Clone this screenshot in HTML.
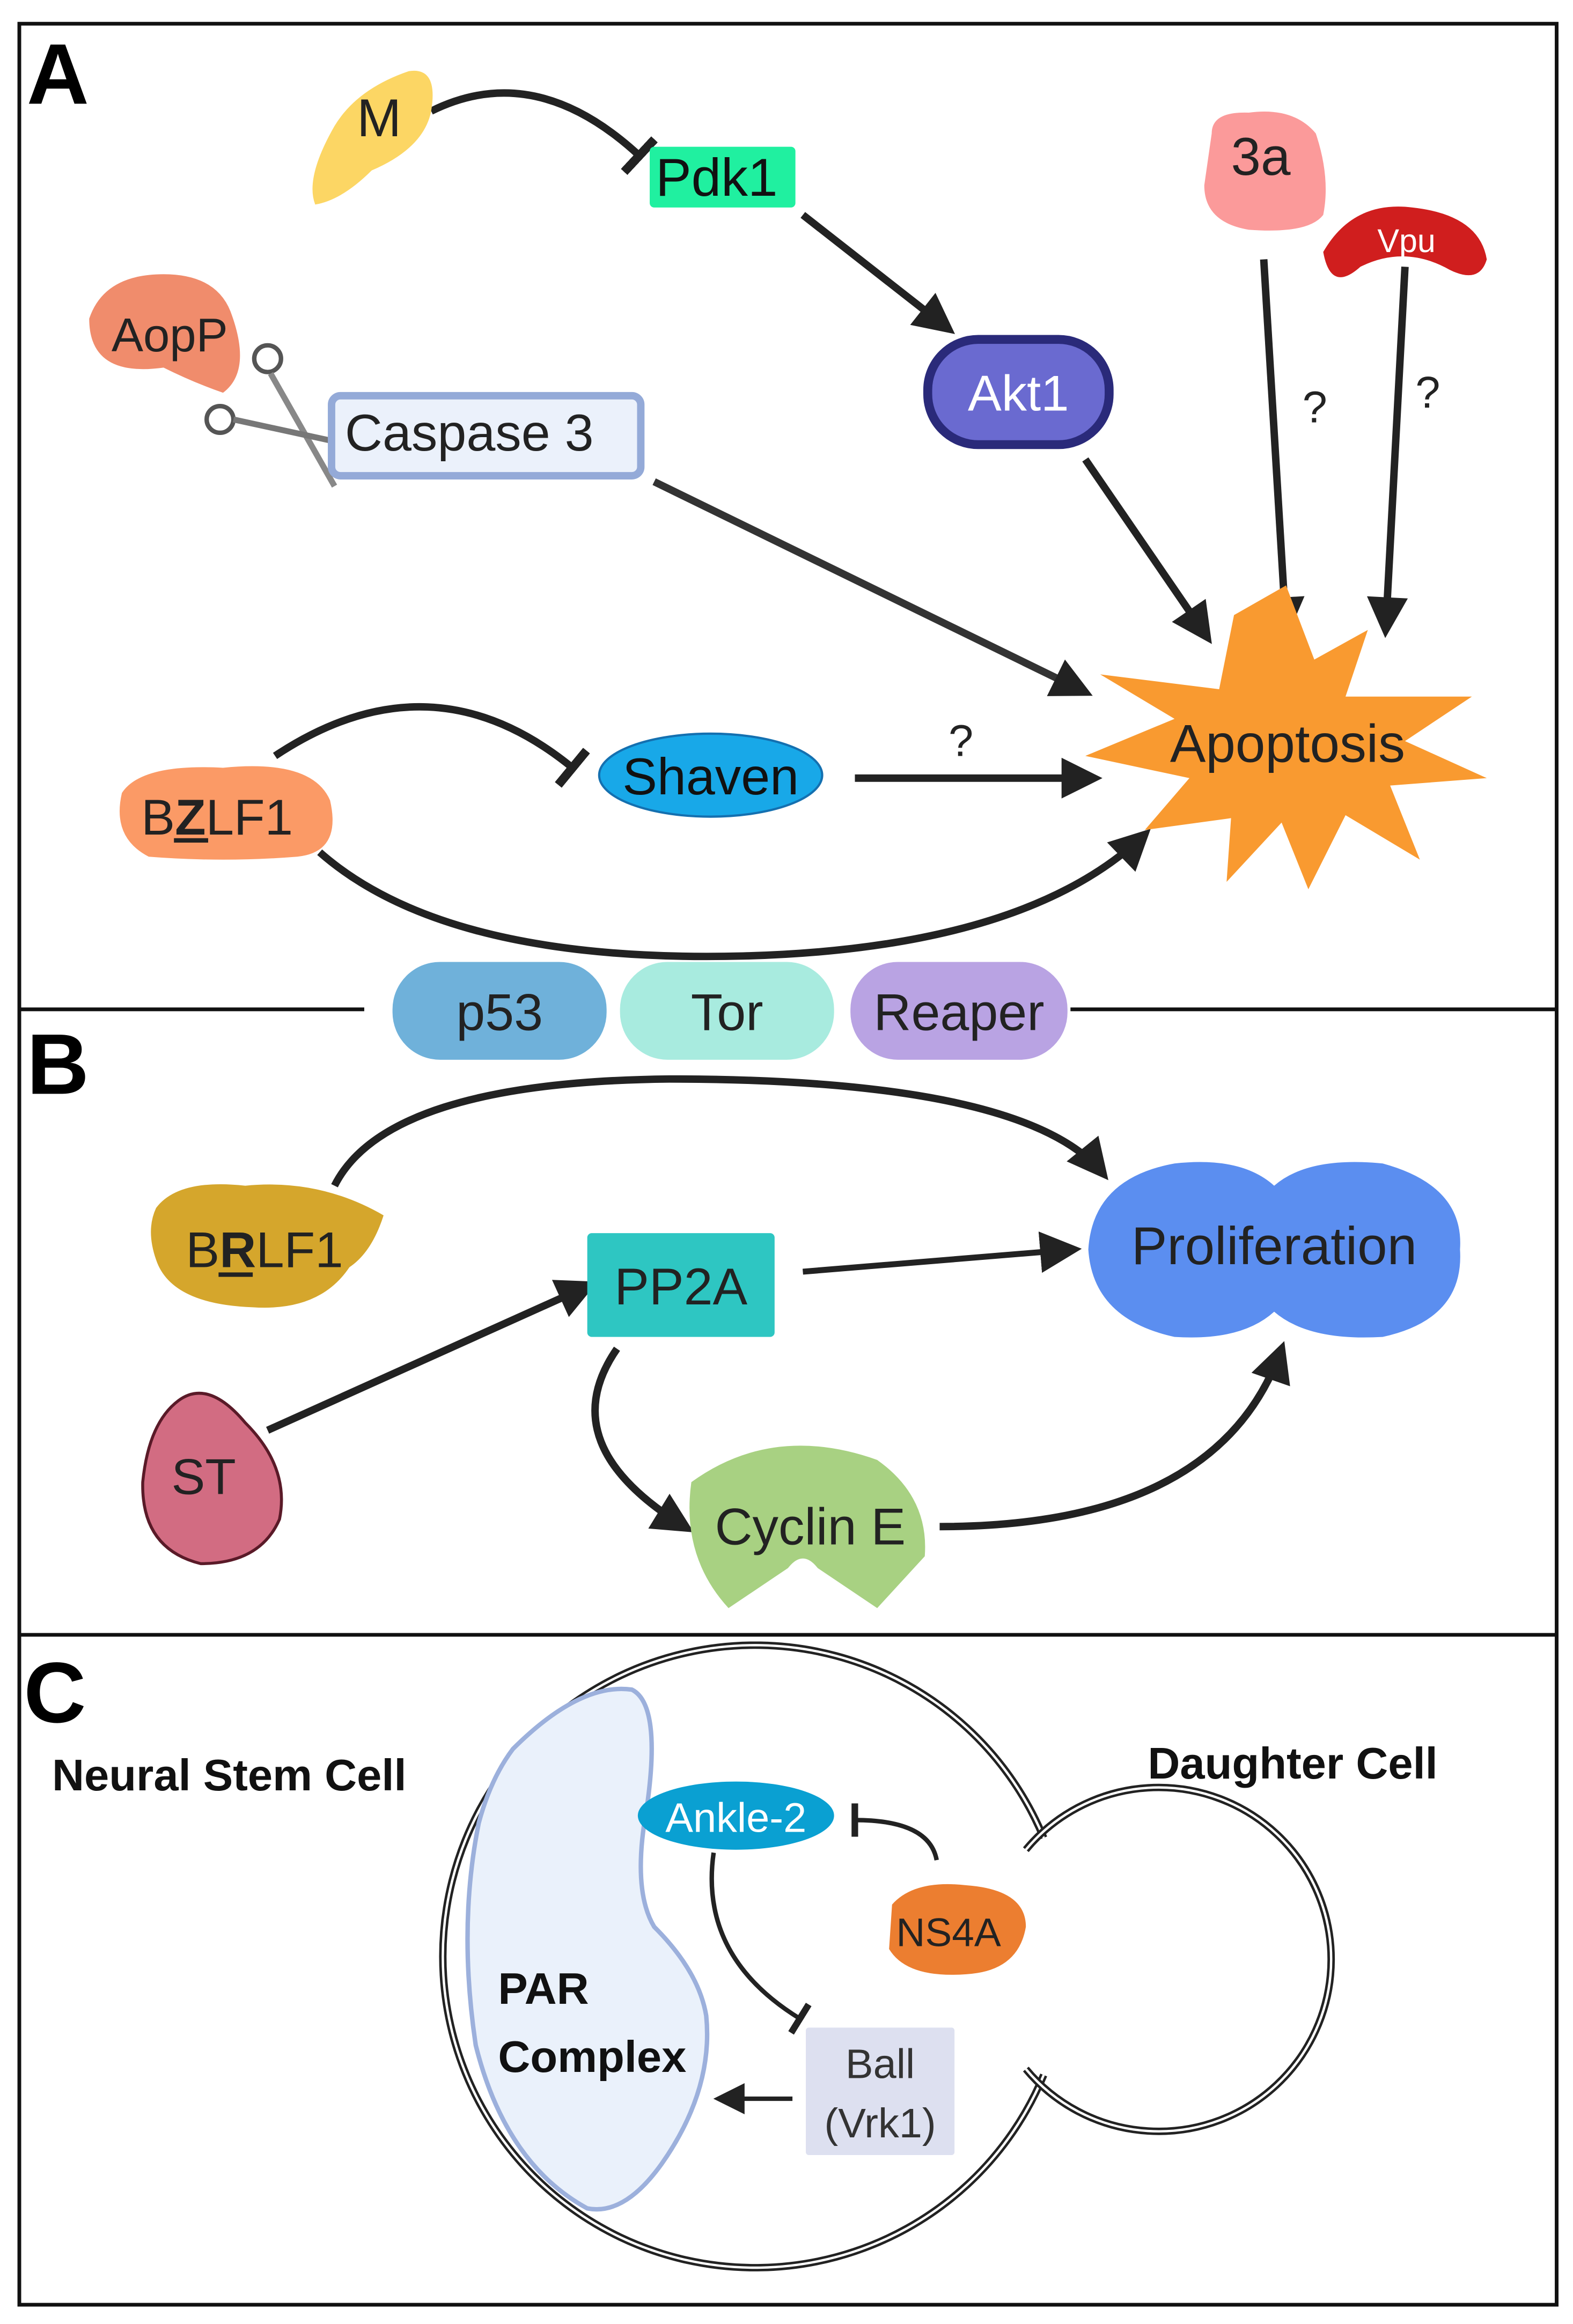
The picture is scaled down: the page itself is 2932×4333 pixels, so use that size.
<!DOCTYPE html>
<html><head><meta charset="utf-8"><style>
html,body{margin:0;padding:0;background:#fff;}
svg{display:block;}
text{font-family:"Liberation Sans",sans-serif;}
</style></head><body>
<svg width="2932" height="4333" viewBox="0 0 1058 1568" preserveAspectRatio="none" xmlns="http://www.w3.org/2000/svg">
<defs>
<marker id="ah" viewBox="0 0 10 10" refX="8" refY="5" markerWidth="6" markerHeight="5.5" orient="auto" markerUnits="strokeWidth"><path d="M0,0 L10,5 L0,10 z" fill="#222"/></marker>
<marker id="ahs" viewBox="0 0 10 10" refX="8" refY="5" markerWidth="7" markerHeight="7" orient="auto" markerUnits="strokeWidth"><path d="M0,0 L10,5 L0,10 z" fill="#222"/></marker>
<marker id="bar" viewBox="0 0 4 20" refX="2" refY="10" markerWidth="1.2" markerHeight="6" orient="auto" markerUnits="strokeWidth"><rect x="0" y="0" width="4" height="20" fill="#222"/></marker>
<marker id="bars" viewBox="0 0 4 20" refX="2" refY="10" markerWidth="1.5" markerHeight="8" orient="auto" markerUnits="strokeWidth"><rect x="0" y="0" width="4" height="20" fill="#222"/></marker>
</defs>
<rect width="1058" height="1568" fill="#fff"/>
<rect x="13" y="16" width="1034" height="1539" fill="none" stroke="#111" stroke-width="2.5"/>
<line x1="13" y1="681" x2="245" y2="681" stroke="#111" stroke-width="2.5"/>
<line x1="720" y1="681" x2="1047" y2="681" stroke="#111" stroke-width="2.5"/>
<line x1="13" y1="1103" x2="1047" y2="1103" stroke="#111" stroke-width="2.5"/>
<text x="18" y="70" font-size="58" font-weight="bold" fill="#000">A</text>
<text x="18" y="738" font-size="58" font-weight="bold" fill="#000">B</text>
<text x="16" y="1162" font-size="58" font-weight="bold" fill="#000">C</text>

<path d="M290,75 Q360,40 430,105" fill="none" stroke="#222" stroke-width="5" marker-end="url(#bar)"/>
<line x1="540" y1="145" x2="638" y2="222" stroke="#222" stroke-width="5" marker-end="url(#ah)"/>
<line x1="730" y1="310" x2="812" y2="430" stroke="#222" stroke-width="5" marker-end="url(#ah)"/>
<line x1="850" y1="175" x2="865" y2="425" stroke="#222" stroke-width="5" marker-end="url(#ah)"/>
<line x1="945" y1="180" x2="932" y2="425" stroke="#222" stroke-width="5" marker-end="url(#ah)"/>
<line x1="440" y1="325" x2="730" y2="467" stroke="#333" stroke-width="5" marker-end="url(#ah)"/>
<path d="M185,510 Q290,440 385,518" fill="none" stroke="#222" stroke-width="5" marker-end="url(#bar)"/>
<line x1="575" y1="525" x2="736" y2="525" stroke="#222" stroke-width="5" marker-end="url(#ah)"/>
<path d="M215,575 Q300,650 500,645 Q690,640 770,563" fill="none" stroke="#222" stroke-width="5" marker-end="url(#ah)"/>
<text x="876" y="285" font-size="30" fill="#222">?</text>
<text x="952" y="275" font-size="30" fill="#222">?</text>
<text x="638" y="510" font-size="30" fill="#222">?</text>

<path d="M225,85 Q240,60 275,48 Q295,45 290,75 Q285,100 250,115 Q230,135 212,138 Q205,120 225,85 z" fill="#fcd664"/>
<text x="240" y="92" font-size="36" fill="#222">M</text>
<rect x="437" y="99" width="98" height="41" rx="3" fill="#20f0a0"/>
<text x="441" y="132" font-size="36" fill="#111">Pdk1</text>
<rect x="624" y="229" width="122" height="71" rx="34" fill="#6a6ad0" stroke="#2a2a7a" stroke-width="6"/>
<text x="685" y="277" font-size="34" fill="#fff" text-anchor="middle">Akt1</text>
<path d="M815,90 Q815,75 840,76 Q870,72 885,90 Q895,120 890,145 Q880,158 840,155 Q810,150 810,125 z" fill="#fb9a9a"/>
<text x="848" y="118" font-size="36" fill="#222" text-anchor="middle">3a</text>
<path d="M890,170 Q910,135 950,140 Q995,145 1000,175 Q995,192 975,182 Q945,165 915,180 Q895,198 890,170 z" fill="#d01e1e"/>
<text x="946" y="170" font-size="22" fill="#fff" text-anchor="middle">Vpu</text>
<path d="M60,215 Q70,185 110,185 Q145,185 155,210 Q170,250 150,265 Q130,258 110,248 Q60,255 60,215 z" fill="#f08c6c"/>
<text x="75" y="237" font-size="32" fill="#222">AopP</text>
<circle cx="180" cy="242" r="9" fill="none" stroke="#555" stroke-width="3"/>
<circle cx="148" cy="283" r="9" fill="none" stroke="#555" stroke-width="3"/>
<line x1="182" y1="252" x2="225" y2="328" stroke="#888" stroke-width="4"/>
<line x1="157" y1="283" x2="235" y2="300" stroke="#777" stroke-width="4"/>
<rect x="223" y="267" width="208" height="54" rx="6" fill="#ebf1fb" stroke="#94aad8" stroke-width="5"/>
<text x="232" y="304" font-size="35" fill="#222">Caspase 3</text>
<polygon points="865,395 884,445 920,425 905,470 990,470 945,500 1000,525 935,530 955,580 905,550 880,600 862,555 825,595 828,552 770,560 800,525 730,510 790,485 740,455 820,465 830,415" fill="#f99a30"/>
<text x="866" y="514" font-size="36" fill="#222" text-anchor="middle">Apoptosis</text>
<path d="M82,535 Q95,515 150,518 Q210,512 222,540 Q230,575 200,578 Q150,582 100,578 Q75,565 82,535 z" fill="#fb9a66"/>
<text x="95" y="563" font-size="34" fill="#222">B<tspan font-weight="bold">Z</tspan>LF1</text>
<line x1="117" y1="567" x2="140" y2="567" stroke="#222" stroke-width="3"/>
<ellipse cx="478" cy="523" rx="75" ry="28" fill="#18a8e8" stroke="#1470b0" stroke-width="1.5"/>
<text x="478" y="536" font-size="35" fill="#111" text-anchor="middle">Shaven</text>
<rect x="264" y="649" width="144" height="66" rx="32" fill="#6fb1da"/>
<text x="336" y="695" font-size="35" fill="#222" text-anchor="middle">p53</text>
<rect x="417" y="649" width="144" height="66" rx="32" fill="#a8ebdf"/>
<text x="489" y="695" font-size="35" fill="#222" text-anchor="middle">Tor</text>
<rect x="572" y="649" width="146" height="66" rx="32" fill="#b9a3e3"/>
<text x="645" y="695" font-size="35" fill="#222" text-anchor="middle">Reaper</text>

<path d="M225,800 Q260,730 450,728 Q690,728 742,792" fill="none" stroke="#222" stroke-width="5" marker-end="url(#ah)"/>
<line x1="540" y1="858" x2="722" y2="843" stroke="#222" stroke-width="4" marker-end="url(#ahs)"/>
<line x1="180" y1="965" x2="397" y2="867" stroke="#222" stroke-width="5" marker-end="url(#ah)"/>
<path d="M415,910 Q370,975 462,1031" fill="none" stroke="#222" stroke-width="5" marker-end="url(#ah)"/>
<path d="M632,1030 Q820,1030 862,910" fill="none" stroke="#222" stroke-width="5" marker-end="url(#ah)"/>
<path d="M105,815 Q120,795 165,800 Q215,795 258,820 Q250,845 235,855 Q215,885 170,882 Q115,880 105,850 Q98,830 105,815 z" fill="#d5a62c"/>
<text x="125" y="855" font-size="34" fill="#222">B<tspan font-weight="bold">R</tspan>LF1</text>
<line x1="147" y1="860" x2="170" y2="860" stroke="#222" stroke-width="3"/>
<rect x="395" y="832" width="126" height="70" rx="3" fill="#2ec6c2"/>
<text x="458" y="880" font-size="35" fill="#222" text-anchor="middle">PP2A</text>
<path d="M857,800 Q880,780 930,785 Q985,800 982,843 Q985,890 930,902 Q880,905 857,885 Q835,905 790,902 Q735,890 732,843 Q735,795 790,785 Q835,780 857,800 z" fill="#5b8ef0"/>
<text x="857" y="853" font-size="36" fill="#222" text-anchor="middle">Proliferation</text>
<path d="M120,945 Q140,930 165,960 Q195,990 188,1025 Q175,1055 135,1055 Q95,1045 96,1000 Q100,960 120,945 z" fill="#d26c82" stroke="#5a1a28" stroke-width="2"/>
<text x="137" y="1008" font-size="34" fill="#222" text-anchor="middle">ST</text>
<path d="M465,1000 Q520,960 590,985 Q625,1010 622,1050 L590,1085 L550,1058 Q540,1045 530,1058 L490,1085 Q458,1050 465,1000 z" fill="#a8d182"/>
<text x="545" y="1042" font-size="35" fill="#222" text-anchor="middle">Cyclin E</text>

<text x="35" y="1208" font-size="30" font-weight="bold" fill="#111">Neural Stem Cell</text>
<text x="772" y="1200" font-size="30" font-weight="bold" fill="#111">Daughter Cell</text>
<g fill="none">
<path d="M702,1240 A210,210 0 1 0 702,1400" stroke="#222" stroke-width="5"/>
<path d="M702,1240 A210,210 0 1 0 702,1400" stroke="#fff" stroke-width="1.6"/>
<path d="M690,1248 A116,116 0 1 1 690,1396" stroke="#222" stroke-width="5"/>
<path d="M690,1248 A116,116 0 1 1 690,1396" stroke="#fff" stroke-width="1.6"/>
</g>
<path d="M345,1180 Q390,1135 425,1140 Q445,1150 435,1220 Q425,1275 440,1300 Q470,1330 475,1360 Q480,1410 445,1460 Q420,1495 395,1490 Q340,1460 320,1380 Q308,1300 322,1230 Q330,1200 345,1180 z" fill="#eaf1fb" stroke="#9cb0dc" stroke-width="3"/>
<text x="335" y="1352" font-size="30" font-weight="bold" fill="#111">PAR</text>
<text x="335" y="1398" font-size="30" font-weight="bold" fill="#111">Complex</text>
<ellipse cx="495" cy="1225" rx="66" ry="23" fill="#0aa0d2"/>
<text x="495" y="1236" font-size="28" fill="#fff" text-anchor="middle">Ankle-2</text>
<path d="M600,1285 Q615,1268 650,1272 Q690,1275 690,1300 Q685,1330 650,1332 Q610,1335 598,1315 z" fill="#ec7e30"/>
<text x="638" y="1313" font-size="27" fill="#222" text-anchor="middle">NS4A</text>
<rect x="542" y="1368" width="100" height="86" rx="2" fill="#dde0f0"/>
<text x="592" y="1402" font-size="28" fill="#333" text-anchor="middle">Ball</text>
<text x="592" y="1442" font-size="28" fill="#333" text-anchor="middle">(Vrk1)</text>
<path d="M630,1255 Q625,1228 575,1228" fill="none" stroke="#222" stroke-width="3" marker-end="url(#bars)"/>
<path d="M480,1250 Q470,1320 538,1362" fill="none" stroke="#222" stroke-width="3" marker-end="url(#bars)"/>
<line x1="533" y1="1416" x2="484" y2="1416" stroke="#222" stroke-width="3" marker-end="url(#ahs)"/>
</svg>
</body></html>
